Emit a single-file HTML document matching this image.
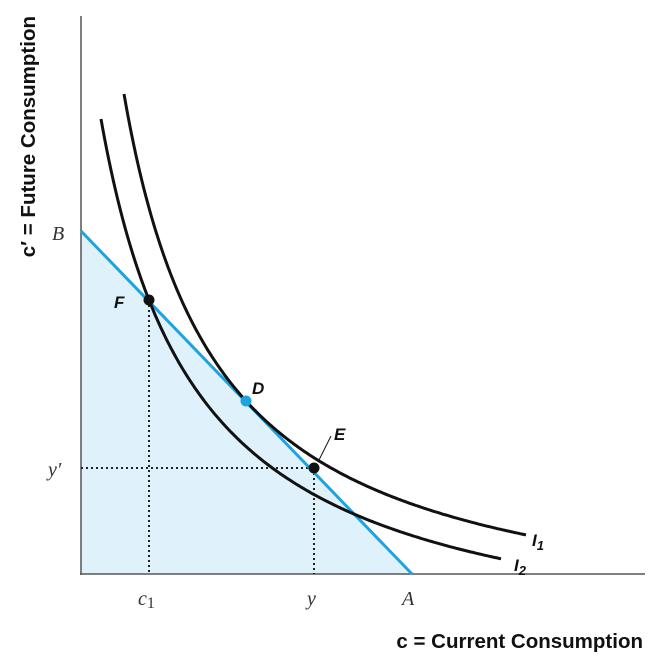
<!DOCTYPE html>
<html><head><style>body{margin:0;background:#fff}svg{display:block}</style></head><body>
<svg width="650" height="660" viewBox="0 0 650 660" xmlns="http://www.w3.org/2000/svg">
<polygon points="81,231 412,574 81,574" fill="#dff2fb"/>
<line x1="81" y1="16" x2="81" y2="575" stroke="#555" stroke-width="1.5"/>
<line x1="80" y1="574" x2="645" y2="574" stroke="#555" stroke-width="1.5"/>
<g stroke="#222" stroke-width="2" stroke-dasharray="2,3">
<line x1="149" y1="300" x2="149" y2="574"/>
<line x1="314" y1="468" x2="314" y2="574"/>
<line x1="81" y1="468" x2="314" y2="468"/>
</g>
<line x1="81" y1="231" x2="412" y2="574" stroke="#1fa3e0" stroke-width="3"/>
<path id="i1" fill="none" stroke="#111" stroke-width="3"/>
<path id="i2" fill="none" stroke="#111" stroke-width="3"/>
<line x1="331" y1="436" x2="318" y2="462" stroke="#111" stroke-width="1"/>
<circle cx="149" cy="300" r="5.5" fill="#111"/>
<circle cx="246" cy="401" r="5.5" fill="#1fa3e0"/>
<circle cx="314" cy="468" r="5.5" fill="#111"/>
<g font-family="Liberation Sans, sans-serif" font-weight="bold" font-style="italic" font-size="17" fill="#111">
<text x="114" y="308">F</text><text x="252" y="394">D</text><text x="334" y="440">E</text>
<text x="532" y="546">I<tspan font-size="13" dy="4">1</tspan></text>
<text x="514" y="571">I<tspan font-size="13" dy="4">2</tspan></text>
</g>
<g font-family="Liberation Serif, serif" font-style="italic" font-size="20" fill="#333">
<text x="52" y="240">B</text><text x="48" y="476">y′</text>
<text x="138" y="605">c<tspan font-style="normal" font-size="16" dy="3">1</tspan></text>
<text x="307" y="605">y</text><text x="402" y="605">A</text>
</g>
<text x="643" y="648" text-anchor="end" font-family="Liberation Sans, sans-serif" font-weight="bold" font-size="20.5" fill="#111">c = Current Consumption</text>
<text transform="translate(35,16) rotate(-90)" text-anchor="end" font-family="Liberation Sans, sans-serif" font-weight="bold" font-size="20.5" fill="#111">c′ = Future Consumption</text>
</svg>
<script>
function mk(id,x0,x1,a,b,k){var d="";for(var x=x0;x<=x1;x+=2){var y=574-(b+k/(x-a));d+=(d?"L":"M")+x+","+y.toFixed(1);}document.getElementById(id).setAttribute("d",d);}
mk("i1",124,526,29.6,-64.5,51405);
mk("i2",101,502,4.13,-91.3,52917);
</script>
</body></html>
